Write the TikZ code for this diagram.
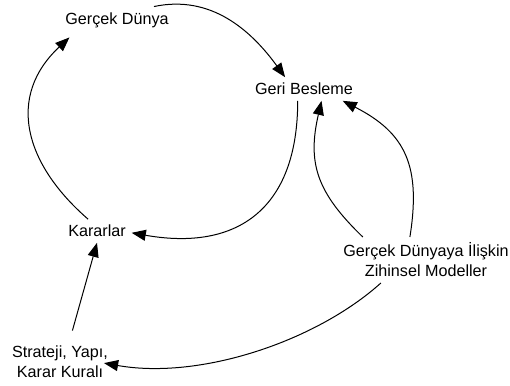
\documentclass[tikz,border=0pt]{standalone}
\usepackage{fontspec}
\setmainfont{Liberation Sans}
\usetikzlibrary{arrows.meta}

\begin{document}
\begin{tikzpicture}[x=0.6pt,y=0.6pt,
every node/.style={font=\fontsize{9.7}{12}\selectfont, align=center},
arr/.style={line width=0.6pt, -{Triangle[length=8.5pt,width=6.6pt]}}]
\useasboundingbox (0,0) rectangle (510,385);
%nodes
\node(gd) at (117,365) {Gerçek Dünya};
\node(gb) at (304,296) {Geri Besleme};
\node(kr) at (97,154) {Kararlar};
\node(zm) at (426,125) {Gerçek Dünyaya İlişkin\\Zihinsel Modeller};
\node(sy) at (60,23) {Strateji, Yapı,\\Karar Kuralı};

%outer loop
\draw[arr] (gd.20) to[out=12,in=126] (gb.148);
\draw[arr] (gb.242) to[out=-90,in=-10,looseness=1.3] (kr.-3);
\draw[arr] (kr.127) to[out=139,in=223,looseness=1.2] ([shift={(10,-4)}]gd.south west);

%mental models
\draw[arr] (zm.160) to[out=136,in=257,looseness=1.15] (gb.-34);
\draw[arr] (zm.125) to[out=81,in=-27,looseness=1.2] (gb.-17);
\draw[arr, shorten >=-6pt] (zm.207) to[out=222,in=-10,looseness=0.8] (sy.-3);
\draw[arr, shorten <=6pt] (sy.66) -- (kr.south);
\end{tikzpicture}
\end{document}
